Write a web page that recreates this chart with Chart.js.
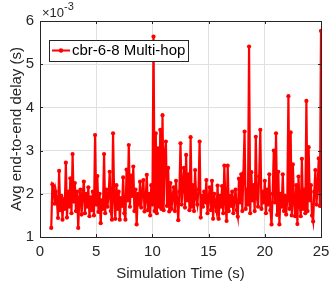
<!DOCTYPE html>
<html>
<head>
<meta charset="utf-8">
<script src="https://cdn.jsdelivr.net/npm/chart.js@4.4.1/dist/chart.umd.min.js"></script>
<style>
  html, body { margin: 0; padding: 0; background: #fff; }
</style>
</head>
<body>
<canvas id="delayChart" width="329" height="287"></canvas>
<script>
// simulation time (s)
var times = [
  1.0, 1.1, 1.2, 1.3, 1.4, 1.5, 1.6, 1.7, 1.8, 1.9,
  2.0, 2.1, 2.2, 2.3, 2.4, 2.5, 2.6, 2.7, 2.8, 2.9,
  3.0, 3.1, 3.2, 3.3, 3.4, 3.5, 3.6, 3.7, 3.8, 3.9,
  4.0, 4.1, 4.2, 4.3, 4.4, 4.5, 4.6, 4.7, 4.8, 4.9,
  5.0, 5.1, 5.2, 5.3, 5.4, 5.5, 5.6, 5.7, 5.8, 5.9,
  6.0, 6.1, 6.2, 6.3, 6.4, 6.5, 6.6, 6.7, 6.8, 6.9,
  7.0, 7.1, 7.2, 7.3, 7.4, 7.5, 7.6, 7.7, 7.8, 7.9,
  8.0, 8.1, 8.2, 8.3, 8.4, 8.5, 8.6, 8.7, 8.8, 8.9,
  9.0, 9.1, 9.2, 9.3, 9.4, 9.5, 9.6, 9.7, 9.8, 9.9,
  10.0, 10.1, 10.2, 10.3, 10.4, 10.5, 10.6, 10.7, 10.8, 10.9,
  11.0, 11.1, 11.2, 11.3, 11.4, 11.5, 11.6, 11.7, 11.8, 11.9,
  12.0, 12.1, 12.2, 12.3, 12.4, 12.5, 12.6, 12.7, 12.8, 12.9,
  13.0, 13.1, 13.2, 13.3, 13.4, 13.5, 13.6, 13.7, 13.8, 13.9,
  14.0, 14.1, 14.2, 14.3, 14.4, 14.5, 14.6, 14.7, 14.8, 14.9,
  15.0, 15.1, 15.2, 15.3, 15.4, 15.5, 15.6, 15.7, 15.8, 15.9,
  16.0, 16.1, 16.2, 16.3, 16.4, 16.5, 16.6, 16.7, 16.8, 16.9,
  17.0, 17.1, 17.2, 17.3, 17.4, 17.5, 17.6, 17.7, 17.8, 17.9,
  18.0, 18.1, 18.2, 18.3, 18.4, 18.5, 18.6, 18.7, 18.8, 18.9,
  19.0, 19.1, 19.2, 19.3, 19.4, 19.5, 19.6, 19.7, 19.8, 19.9,
  20.0, 20.1, 20.2, 20.3, 20.4, 20.5, 20.6, 20.7, 20.8, 20.9,
  21.0, 21.1, 21.2, 21.3, 21.4, 21.5, 21.6, 21.7, 21.8, 21.9,
  22.0, 22.1, 22.2, 22.3, 22.4, 22.5, 22.6, 22.7, 22.8, 22.9,
  23.0, 23.1, 23.2, 23.3, 23.4, 23.5, 23.6, 23.7, 23.8, 23.9,
  24.0, 24.1, 24.2, 24.3, 24.4, 24.5, 24.6, 24.7, 24.8, 24.9,
  25.0
];

// avg end-to-end delay, in units of 1e-3 s
var delays = [
  1.21, 2.22, 2.18, 1.77, 2.05, 1.85, 1.44, 2.53, 1.62, 1.95,
  1.40, 1.88, 1.65, 2.72, 1.45, 2.05, 1.70, 2.36, 1.55, 2.92,
  1.82, 2.25, 1.60, 2.05, 1.21, 1.90, 2.10, 1.52, 1.98, 2.28,
  1.55, 2.00, 1.70, 2.15, 1.48, 1.92, 1.62, 2.05, 1.50, 3.36,
  1.75, 2.41, 1.58, 2.00, 1.32, 1.85, 1.65, 2.92, 1.55, 2.10,
  1.70, 1.95, 2.51, 1.60, 1.40, 3.40, 1.88, 1.42, 2.20, 1.65,
  2.05, 1.40, 1.90, 1.72, 2.38, 1.55, 1.40, 2.56, 1.85, 3.13,
  1.70, 2.42, 1.95, 2.63, 1.60, 2.10, 1.29, 2.00, 1.75, 2.28,
  1.68, 2.05, 2.32, 1.59, 1.85, 2.44, 1.62, 2.00, 1.50, 2.20,
  1.75, 5.64, 1.60, 3.40, 1.55, 3.05, 1.70, 3.48, 1.65, 3.82,
  1.62, 2.95, 3.21, 1.72, 2.60, 1.59, 2.25, 1.65, 1.95, 2.15,
  1.60, 2.30, 1.85, 1.39, 2.05, 3.17, 1.75, 2.20, 2.60, 1.68,
  2.90, 1.85, 2.45, 1.62, 3.31, 1.70, 2.20, 1.60, 2.55, 1.90,
  1.75, 2.10, 3.21, 1.45, 1.95, 1.70, 2.05, 1.80, 2.32, 1.55,
  1.90, 2.15, 1.62, 2.30, 1.42, 2.00, 1.75, 1.60, 2.19, 1.42,
  1.95, 1.70, 2.18, 1.55, 2.65, 1.80, 1.37, 2.65, 1.60, 1.95,
  1.72, 2.05, 1.55, 1.88, 2.10, 1.62, 1.47, 2.35, 1.80, 2.45,
  1.60, 2.48, 3.44, 1.65, 2.10, 1.75, 5.41, 1.55, 2.50, 1.85,
  2.20, 1.60, 3.32, 1.90, 1.70, 2.40, 3.48, 1.65, 2.05, 1.80,
  2.30, 1.55, 2.10, 1.75, 2.45, 1.62, 1.29, 2.00, 3.00, 1.80,
  3.40, 1.51, 2.51, 1.29, 2.00, 1.70, 2.45, 1.60, 1.95, 1.52,
  1.85, 4.26, 1.65, 3.42, 1.50, 2.68, 1.80, 1.48, 2.20, 1.30,
  2.40, 1.75, 1.48, 2.81, 1.65, 2.10, 1.55, 4.15, 1.60, 3.08,
  1.85, 2.20, 1.50, 1.36, 2.05, 2.55, 1.75, 2.20, 2.82, 1.72,
  5.77
];

var seriesName = "cbr-6-8 Multi-hop";
var xTicks = [0, 5, 10, 15, 20, 25];
var yTicks = [1, 2, 3, 4, 5, 6];

var fontName = "'Liberation Sans', Arial, Helvetica, sans-serif";
var axisInk = "#262626";
var lineRed = "#ff0000";

// MATLAB look: box, inward ticks, exponent label and boxed legend
var matlabBox = {
  id: "matlabBox",
  afterDraw: function(chart) {
    var ctx = chart.ctx;
    var a = chart.chartArea;
    var xs = chart.scales.x, ys = chart.scales.y;
    ctx.save();
    ctx.strokeStyle = axisInk;
    ctx.lineWidth = 1;
    ctx.strokeRect(Math.round(a.left) + 0.5, Math.round(a.top) + 0.5,
                   Math.round(a.right - a.left), Math.round(a.bottom - a.top));
    ctx.beginPath();
    xTicks.forEach(function(v) {
      var px = Math.round(xs.getPixelForValue(v)) + 0.5;
      ctx.moveTo(px, a.bottom); ctx.lineTo(px, a.bottom - 3);
      ctx.moveTo(px, a.top); ctx.lineTo(px, a.top + 3);
    });
    yTicks.forEach(function(v) {
      var py = Math.round(ys.getPixelForValue(v)) + 0.5;
      ctx.moveTo(a.left, py); ctx.lineTo(a.left + 3, py);
      ctx.moveTo(a.right, py); ctx.lineTo(a.right - 3, py);
    });
    ctx.stroke();

    // x10^-3
    ctx.fillStyle = axisInk;
    ctx.textBaseline = "alphabetic";
    ctx.textAlign = "left";
    ctx.font = "13px " + fontName;
    ctx.fillText("\u00d710", a.left + 2, 17);
    ctx.font = "11px " + fontName;
    ctx.fillText("-3", a.left + 24, 10);

    // legend
    var lx = 49, ly = 40, lw = 139, lh = 21;
    ctx.fillStyle = "#fff";
    ctx.fillRect(lx, ly, lw, lh);
    ctx.strokeStyle = axisInk;
    ctx.strokeRect(lx + 0.5, ly + 0.5, lw, lh);
    ctx.strokeStyle = lineRed;
    ctx.lineWidth = 2;
    ctx.beginPath();
    ctx.moveTo(52, 50.5); ctx.lineTo(70, 50.5);
    ctx.stroke();
    ctx.fillStyle = lineRed;
    ctx.beginPath();
    ctx.arc(61, 50.5, 2.2, 0, Math.PI * 2);
    ctx.fill();
    ctx.fillStyle = "#000";
    ctx.font = "15px " + fontName;
    ctx.textBaseline = "middle";
    ctx.fillText(seriesName, 72, 51);
    ctx.restore();
  }
};

window.onload = function() {
  var ctx = document.getElementById("delayChart").getContext("2d");
  var points = times.map(function(t, i) { return { x: t, y: delays[i] }; });

  var chart = new Chart(ctx, {
    type: "line",
    data: {
      datasets: [{
        label: seriesName,
        data: points,
        borderColor: lineRed,
        backgroundColor: lineRed,
        borderWidth: 2.2,
        pointRadius: 2.1,
        pointBorderWidth: 0,
        pointBackgroundColor: lineRed,
        tension: 0
      }]
    },
    options: {
      responsive: false,
      animation: false,
      layout: { padding: { left: 0, top: 21, right: 8, bottom: 0 } },
      plugins: {
        legend: { display: false },
        tooltip: { enabled: false }
      },
      scales: {
        x: {
          type: "linear",
          min: xTicks[0],
          max: xTicks[xTicks.length - 1],
          afterFit: function(s) { s.height = 50; s.paddingLeft = 0; s.paddingRight = 0; },
          afterBuildTicks: function(s) { s.ticks = xTicks.map(function(v) { return { value: v }; }); },
          grid: { color: "#e0e0e0", drawTicks: false },
          border: { display: false },
          ticks: { color: axisInk, padding: 6, font: { family: fontName, size: 15 } },
          title: {
            display: true, text: "Simulation Time (s)", color: axisInk,
            padding: { top: 0, bottom: 4 },
            font: { family: fontName, size: 15 }
          }
        },
        y: {
          type: "linear",
          min: yTicks[0],
          max: yTicks[yTicks.length - 1],
          afterFit: function(s) { s.width = 40; s.paddingTop = 0; s.paddingBottom = 0; },
          afterBuildTicks: function(s) { s.ticks = yTicks.map(function(v) { return { value: v }; }); },
          grid: { color: "#e0e0e0", drawTicks: false },
          border: { display: false },
          ticks: { color: axisInk, padding: 6, font: { family: fontName, size: 15 } },
          title: {
            display: true, text: "Avg end-to-end delay (s)", color: axisInk,
            padding: { top: 8, bottom: 0 },
            font: { family: fontName, size: 15 }
          }
        }
      }
    },
    plugins: [matlabBox]
  });
};
</script>
</body>
</html>
